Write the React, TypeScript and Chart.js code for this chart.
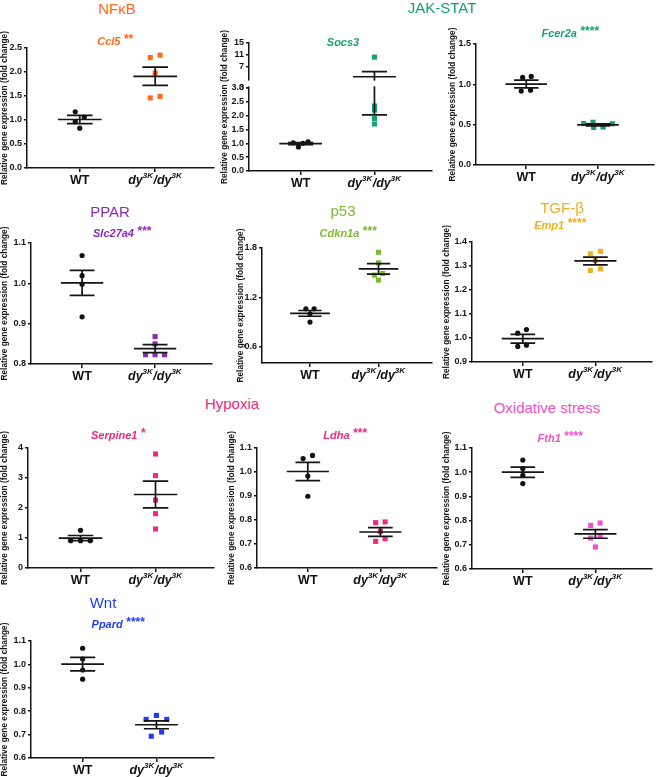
import React, { useEffect, useRef } from 'react';
import { Chart, registerables } from 'chart.js';
Chart.register(...registerables);

// ---------------- DATA ----------------
const categories = ['WT', 'dy^{3K}/dy^{3K}'];
const yAxisTitle = 'Relative gene expression (fold change)';

// NFκB – Ccl5
const ccl5WT = [1.17, 1.06, 0.965, 0.83];
const ccl5KO = [2.3, 2.35, 1.98, 1.46, 1.49];
const ccl5WTJitter = [-0.06, 0.06, -0.06, 0];
const ccl5KOJitter = [-0.065, 0.065, 0, -0.065, 0.065];
const ccl5Mean = [1.01, 1.91];
const ccl5Sem = [0.085, 0.19];
const ccl5Ticks = [0, 0.5, 1.0, 1.5, 2.0, 2.5];

// JAK-STAT – Socs3 (broken axis)
const socs3WT = [1.02, 1.05, 1.0, 0.87];
const socs3KO = [10.3, 2.35, 2.2, 1.9, 1.7];
const socs3WTJitter = [-0.1, 0.1, 0.03, -0.03];
const socs3KOJitter = [0, 0, 0, 0, 0];
const socs3Mean = [0.99, 3.75];
const socs3Sem = [0.035, 1.72];
const socs3LowerTicks = [0, 0.5, 1.0, 1.5, 2.0, 2.5, 3.0];
const socs3UpperTicks = [3, 7, 11, 15];

// JAK-STAT – Fcer2a
const fcer2aWT = [1.086, 1.098, 0.916, 0.928];
const fcer2aKO = [0.514, 0.53, 0.465, 0.47, 0.512];
const fcer2aWTJitter = [-0.05, 0.07, -0.07, 0.06];
const fcer2aKOJitter = [-0.2, -0.07, -0.06, 0.07, 0.2];
const fcer2aMean = [1.003, 0.497];
const fcer2aSem = [0.048, 0.012];
const fcer2aTicks = [0, 0.5, 1.0, 1.5];

// PPAR – Slc27a4
const slc27a4WT = [1.069, 1.019, 0.998, 0.917];
const slc27a4KO = [0.868, 0.85, 0.823, 0.823, 0.823];
const slc27a4WTJitter = [0, 0, 0, 0];
const slc27a4KOJitter = [0, 0, -0.13, 0, 0.13];
const slc27a4Mean = [1.001, 0.838];
const slc27a4Sem = [0.031, 0.01];
const slc27a4Ticks = [0.8, 0.9, 1.0, 1.1];

// p53 – Cdkn1a
const cdkn1aWT = [1.059, 1.059, 0.999, 0.898];
const cdkn1aKO = [1.748, 1.619, 1.47, 1.49, 1.409];
const cdkn1aWTJitter = [-0.06, 0.06, 0, 0];
const cdkn1aKOJitter = [0, 0, -0.06, 0.06, 0];
const cdkn1aMean = [1.004, 1.545];
const cdkn1aSem = [0.035, 0.064];
const cdkn1aTicks = [0.6, 1.2, 1.8];

// TGF-β – Emp1
const emp1WT = [1.02, 1.035, 0.965, 0.97];
const emp1KO = [1.351, 1.361, 1.323, 1.281, 1.288];
const emp1WTJitter = [-0.07, 0.05, -0.07, 0.05];
const emp1KOJitter = [-0.07, 0.07, 0, -0.07, 0.07];
const emp1Mean = [0.997, 1.321];
const emp1Sem = [0.018, 0.016];
const emp1Ticks = [0.9, 1.0, 1.1, 1.2, 1.3, 1.4];

// Hypoxia – Serpine1
const serpine1WT = [1.256, 0.911, 0.911, 0.911];
const serpine1KO = [3.8, 3.08, 2.26, 1.81, 1.3];
const serpine1WTJitter = [0, -0.13, 0, 0.13];
const serpine1KOJitter = [0, 0, 0, 0, 0];
const serpine1Mean = [0.997, 2.45];
const serpine1Sem = [0.087, 0.445];
const serpine1Ticks = [0, 1, 2, 3, 4];

// Hypoxia – Ldha
const ldhaWT = [1.056, 1.069, 0.983, 0.899];
const ldhaKO = [0.789, 0.792, 0.753, 0.711, 0.722];
const ldhaWTJitter = [-0.065, 0.065, 0, 0];
const ldhaKOJitter = [-0.065, 0.065, 0, -0.065, 0.065];
const ldhaMean = [1.002, 0.75];
const ldhaSem = [0.038, 0.018];
const ldhaTicks = [0.6, 0.7, 0.8, 0.9, 1.0, 1.1];

// Oxidative stress – Fth1
const fth1WT = [1.05, 1.015, 0.987, 0.953];
const fth1KO = [0.78, 0.79, 0.728, 0.739, 0.691];
const fth1WTJitter = [0, 0, 0, 0];
const fth1KOJitter = [-0.065, 0.065, -0.065, 0.065, 0];
const fth1Mean = [1.0, 0.745];
const fth1Sem = [0.021, 0.018];
const fth1Ticks = [0.6, 0.7, 0.8, 0.9, 1.0, 1.1];

// Wnt – Ppard
const ppardWT = [1.069, 1.023, 0.976, 0.937];
const ppardKO = [0.765, 0.782, 0.765, 0.693, 0.711];
const ppardWTJitter = [0, 0, 0, 0];
const ppardKOJitter = [-0.14, 0, 0.14, -0.07, 0.07];
const ppardMean = [1.001, 0.742];
const ppardSem = [0.029, 0.017];
const ppardTicks = [0.6, 0.7, 0.8, 0.9, 1.0, 1.1];

// Pathway headings
const pathwayNames = ['NFκB', 'JAK-STAT', 'PPAR', 'p53', 'TGF-β', 'Hypoxia', 'Oxidative stress', 'Wnt'];

// ---------------- STYLE / LAYOUT ----------------
const FONT = 'Arial, "Liberation Sans", Helvetica, sans-serif';
const C = {
  nfkb: '#FF6A1A',
  jak: '#17A173',
  ppar: '#8C2BB5',
  p53: '#7DB934',
  tgf: '#EBB024',
  hyp: '#F0287F',
  oxi: '#F050CC',
  wnt: '#1F3BF5',
};
const pathwayLayout = [
  { x: 117, y: 9, color: C.nfkb },
  { x: 442, y: 8, color: C.jak },
  { x: 110, y: 212, color: C.ppar },
  { x: 343, y: 211, color: C.p53 },
  { x: 562, y: 208, color: C.tgf },
  { x: 232, y: 404, color: C.hyp },
  { x: 547, y: 408, color: C.oxi },
  { x: 103, y: 603, color: C.wnt },
];

type Brk = { low: number; gap: number; ratio: number };
type Panel = {
  gene: string; stars: string; color: string;
  wt: number[]; ko: number[]; wtJ: number[]; koJ: number[];
  mean: number[]; sem: number[];
  ticks: number[]; upperTicks?: number[]; decimals: number;
  yMin: number; yMax: number; brk?: Brk;
  box: { left: number; axisX: number; top: number; bottom: number; right: number };
  title: { x: number; y: number };
};

const panels: Panel[] = [
  { gene: 'Ccl5', stars: '**', color: C.nfkb, wt: ccl5WT, ko: ccl5KO, wtJ: ccl5WTJitter, koJ: ccl5KOJitter, mean: ccl5Mean, sem: ccl5Sem, ticks: ccl5Ticks, decimals: 1, yMin: 0, yMax: 2.5,
    box: { left: 0, axisX: 27, top: 48, bottom: 168, right: 215 }, title: { x: 115, y: 41 } },
  { gene: 'Socs3', stars: '', color: C.jak, wt: socs3WT, ko: socs3KO, wtJ: socs3WTJitter, koJ: socs3KOJitter, mean: socs3Mean, sem: socs3Sem, ticks: socs3LowerTicks, upperTicks: socs3UpperTicks, decimals: 1, yMin: 0, yMax: 15,
    brk: { low: 3, gap: 0.325, ratio: 0.1084 },
    box: { left: 220, axisX: 249, top: 43, bottom: 171, right: 433 }, title: { x: 343, y: 42 } },
  { gene: 'Fcer2a', stars: '****', color: C.jak, wt: fcer2aWT, ko: fcer2aKO, wtJ: fcer2aWTJitter, koJ: fcer2aKOJitter, mean: fcer2aMean, sem: fcer2aSem, ticks: fcer2aTicks, decimals: 1, yMin: 0, yMax: 1.5,
    box: { left: 448, axisX: 476, top: 44, bottom: 165, right: 655 }, title: { x: 570, y: 33 } },
  { gene: 'Slc27a4', stars: '***', color: C.ppar, wt: slc27a4WT, ko: slc27a4KO, wtJ: slc27a4WTJitter, koJ: slc27a4KOJitter, mean: slc27a4Mean, sem: slc27a4Sem, ticks: slc27a4Ticks, decimals: 1, yMin: 0.8, yMax: 1.1,
    box: { left: 0, axisX: 31, top: 243, bottom: 364, right: 213 }, title: { x: 122, y: 233 } },
  { gene: 'Cdkn1a', stars: '***', color: C.p53, wt: cdkn1aWT, ko: cdkn1aKO, wtJ: cdkn1aWTJitter, koJ: cdkn1aKOJitter, mean: cdkn1aMean, sem: cdkn1aSem, ticks: cdkn1aTicks, decimals: 1, yMin: 0.4, yMax: 1.8,
    box: { left: 236, axisX: 262, top: 248, bottom: 363, right: 433 }, title: { x: 348, y: 233 } },
  { gene: 'Emp1', stars: '****', color: C.tgf, wt: emp1WT, ko: emp1KO, wtJ: emp1WTJitter, koJ: emp1KOJitter, mean: emp1Mean, sem: emp1Sem, ticks: emp1Ticks, decimals: 1, yMin: 0.9, yMax: 1.4,
    box: { left: 442, axisX: 472, top: 242, bottom: 362, right: 653 }, title: { x: 560, y: 225 } },
  { gene: 'Serpine1', stars: '*', color: C.hyp, wt: serpine1WT, ko: serpine1KO, wtJ: serpine1WTJitter, koJ: serpine1KOJitter, mean: serpine1Mean, sem: serpine1Sem, ticks: serpine1Ticks, decimals: 0, yMin: 0, yMax: 4,
    box: { left: 0, axisX: 28, top: 448, bottom: 568, right: 215 }, title: { x: 118, y: 435 } },
  { gene: 'Ldha', stars: '***', color: C.hyp, wt: ldhaWT, ko: ldhaKO, wtJ: ldhaWTJitter, koJ: ldhaKOJitter, mean: ldhaMean, sem: ldhaSem, ticks: ldhaTicks, decimals: 1, yMin: 0.6, yMax: 1.1,
    box: { left: 227, axisX: 257, top: 448, bottom: 568, right: 438 }, title: { x: 345, y: 435 } },
  { gene: 'Fth1', stars: '****', color: C.oxi, wt: fth1WT, ko: fth1KO, wtJ: fth1WTJitter, koJ: fth1KOJitter, mean: fth1Mean, sem: fth1Sem, ticks: fth1Ticks, decimals: 1, yMin: 0.6, yMax: 1.1,
    box: { left: 442, axisX: 472, top: 448, bottom: 569, right: 653 }, title: { x: 560, y: 438 } },
  { gene: 'Ppard', stars: '****', color: C.wnt, wt: ppardWT, ko: ppardKO, wtJ: ppardWTJitter, koJ: ppardKOJitter, mean: ppardMean, sem: ppardSem, ticks: ppardTicks, decimals: 1, yMin: 0.6, yMax: 1.1,
    box: { left: 0, axisX: 31, top: 641, bottom: 758, right: 215 }, title: { x: 118, y: 624 } },
];

const PAD_TOP = 30;
const X_H = 22;
const PAD_RIGHT = 3;
const X_MIN = 0.3;
const X_MAX = 2.78;
const MEAN_HALF = 0.29;
const CAP_HALF = 0.17;

function makeT(p: Panel) {
  const b = p.brk;
  return (v: number) => (!b || v <= b.low ? v : b.low + b.gap + (v - b.low) * b.ratio);
}

function parseLabel(s: string) {
  const parts: { t: string; sup: boolean }[] = [];
  const re = /\^\{([^}]*)\}/g;
  let last = 0; let m: RegExpExecArray | null;
  while ((m = re.exec(s))) {
    if (m.index > last) parts.push({ t: s.slice(last, m.index), sup: false });
    parts.push({ t: m[1], sup: true });
    last = m.index + m[0].length;
  }
  if (last < s.length) parts.push({ t: s.slice(last), sup: false });
  return parts;
}

function PanelChart({ p }: { p: Panel }) {
  const ref = useRef<HTMLCanvasElement>(null);
  const cTop = p.box.top - PAD_TOP;
  const cH = p.box.bottom + X_H - cTop;
  const cW = p.box.right + PAD_RIGHT - p.box.left;
  useEffect(() => {
    const T = makeT(p);
    const tickVals: number[] = [...p.ticks.map(T), ...(p.upperTicks || []).map(T)];
    const tickLabels: string[] = [
      ...p.ticks.map((v) => v.toFixed(p.decimals)),
      ...(p.upperTicks || []).map((v) => String(v)),
    ];
    const plugin = {
      id: 'meanSem',
      afterDatasetsDraw(chart: any) {
        const { ctx, scales } = chart;
        const x = scales.x, y = scales.y;
        ctx.save();
        ctx.strokeStyle = '#151515';
        ctx.lineWidth = 1.7;
        p.mean.forEach((m: number, i: number) => {
          const cx = i + 1;
          const s = p.sem[i];
          const yM = y.getPixelForValue(T(m));
          const yT = y.getPixelForValue(T(m + s));
          const yB = y.getPixelForValue(T(m - s));
          const xc = x.getPixelForValue(cx);
          ctx.beginPath();
          ctx.moveTo(x.getPixelForValue(cx - MEAN_HALF), yM);
          ctx.lineTo(x.getPixelForValue(cx + MEAN_HALF), yM);
          ctx.moveTo(x.getPixelForValue(cx - CAP_HALF), yT);
          ctx.lineTo(x.getPixelForValue(cx + CAP_HALF), yT);
          ctx.moveTo(x.getPixelForValue(cx - CAP_HALF), yB);
          ctx.lineTo(x.getPixelForValue(cx + CAP_HALF), yB);
          ctx.moveTo(xc, yT);
          ctx.lineTo(xc, yB);
          ctx.stroke();
        });
        if (p.brk) {
          const yHi = y.getPixelForValue(p.brk.low + p.brk.gap);
          const yLo = y.getPixelForValue(p.brk.low);
          ctx.fillStyle = '#fff';
          ctx.fillRect(chart.chartArea.left - 2, yHi + 1.6, chart.chartArea.right - chart.chartArea.left + 4, yLo - yHi - 3.2);
        }
        ctx.restore();
      },
      afterDraw(chart: any) {
        const { ctx, scales } = chart;
        const x = scales.x;
        const yBase = chart.chartArea.bottom + 15.5;
        ctx.save();
        ctx.fillStyle = '#111';
        ctx.textBaseline = 'alphabetic';
        categories.forEach((lab, i) => {
          const parts = parseLabel(lab);
          const italic = parts.some((q) => q.sup) ? 'italic ' : '';
          const mainF = `${italic}bold 12.5px ${FONT}`;
          const supF = `${italic}bold 8px ${FONT}`;
          let total = 0;
          parts.forEach((q) => { ctx.font = q.sup ? supF : mainF; total += ctx.measureText(q.t).width + (q.sup ? 0.5 : 0); });
          let xx = x.getPixelForValue(i + 1) - total / 2;
          parts.forEach((q) => {
            ctx.font = q.sup ? supF : mainF;
            ctx.fillText(q.t, xx, q.sup ? yBase - 5.5 : yBase);
            xx += ctx.measureText(q.t).width + (q.sup ? 0.5 : 0);
          });
        });
        ctx.restore();
      },
    };
    const chart = new Chart(ref.current as HTMLCanvasElement, {
      type: 'scatter',
      data: {
        datasets: [
          {
            data: p.wt.map((v, k) => ({ x: 1 + p.wtJ[k], y: T(v) })),
            pointStyle: 'circle', pointRadius: 2.6, backgroundColor: '#111', borderWidth: 0, clip: false,
          } as any,
          {
            data: p.ko.map((v, k) => ({ x: 2 + p.koJ[k], y: T(v) })),
            pointStyle: 'rect', pointRadius: 3.6, backgroundColor: p.color, borderWidth: 0, clip: false,
          } as any,
        ],
      },
      options: {
        responsive: false,
        animation: false,
        events: [],
        layout: { padding: { top: PAD_TOP, right: PAD_RIGHT, left: 0, bottom: 0 } },
        plugins: { legend: { display: false }, tooltip: { enabled: false } },
        scales: {
          x: {
            type: 'linear', min: X_MIN, max: X_MAX,
            afterBuildTicks: (s: any) => { s.ticks = [{ value: 1 }, { value: 2 }]; },
            afterFit: (s: any) => { s.height = X_H; },
            ticks: { callback: () => '', autoSkip: false },
            grid: { display: true, drawOnChartArea: false, drawTicks: true, tickLength: 4, color: '#151515', lineWidth: 1.5 },
            border: { display: true, color: '#151515', width: 1.5 },
          },
          y: {
            type: 'linear', min: T(p.yMin), max: T(p.yMax),
            afterBuildTicks: (s: any) => { s.ticks = tickVals.map((v) => ({ value: v })); },
            afterFit: (s: any) => { s.width = p.box.axisX - p.box.left; },
            ticks: {
              autoSkip: false,
              callback: (_v: any, i: number) => tickLabels[i],
              font: { family: FONT, size: 9, weight: 'bold' },
              color: '#151515', padding: 2,
            },
            grid: { display: true, drawOnChartArea: false, drawTicks: true, tickLength: 3, color: '#151515', lineWidth: 1.5 },
            border: { display: true, color: '#151515', width: 1.5 },
            title: {
              display: true, text: yAxisTitle, color: '#151515', padding: 0,
              font: { family: FONT, size: 8.3, weight: 'bold' },
            },
          },
        },
      } as any,
      plugins: [plugin],
    });
    return () => chart.destroy();
  }, [p]);
  return (
    <canvas
      ref={ref}
      width={cW}
      height={cH}
      style={{ position: 'absolute', left: p.box.left, top: cTop, width: cW, height: cH }}
    />
  );
}

export default function App() {
  return (
    <div style={{ position: 'absolute', left: 0, top: 0, width: 658, height: 777, background: '#fff', overflow: 'hidden', fontFamily: FONT }}>
      {panels.map((p, i) => <PanelChart key={i} p={p} />)}
      {panels.map((p, i) => (
        <div key={'g' + i} style={{
          position: 'absolute', left: p.title.x, top: p.title.y, transform: 'translate(-50%, -50%)',
          color: p.color, fontWeight: 'bold', fontStyle: 'italic', fontSize: 11, lineHeight: '12px', whiteSpace: 'nowrap',
        }}>
          {p.gene}{p.stars ? <span style={{ fontSize: 12, position: 'relative', top: -2, marginLeft: 3 }}>{p.stars}</span> : null}
        </div>
      ))}
      {pathwayNames.map((n, i) => (
        <div key={'p' + i} style={{
          position: 'absolute', left: pathwayLayout[i].x, top: pathwayLayout[i].y, transform: 'translate(-50%, -50%)',
          color: pathwayLayout[i].color, fontSize: 15, lineHeight: '16px', whiteSpace: 'nowrap',
        }}>{n}</div>
      ))}
    </div>
  );
}
